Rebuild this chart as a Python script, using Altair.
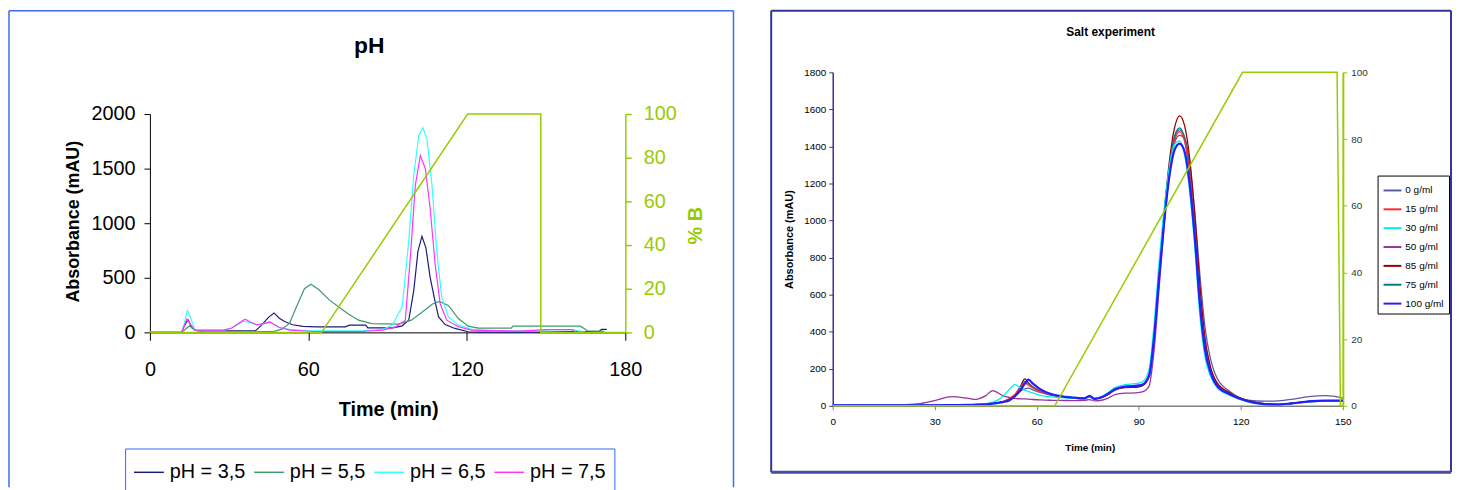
import altair as alt
import pandas as pd

F = "Liberation Sans"
GREEN = "#99cc00"

# ---------------- pH chart data ----------------
PH_LABELS = ["pH = 3,5", "pH = 5,5", "pH = 6,5", "pH = 7,5"]
PH_COLORS = ["#1c1c7c", "#3d9a6c", "#33ffff", "#ff33ff"]

PH35_T = [0, 12, 13, 14.4, 16, 18, 30, 40, 42, 45, 47, 49, 51, 54, 58, 63, 74, 75.5, 81.7, 82.5,
          92, 95.5, 98, 99.9, 101.5, 103, 104.5, 106.1, 108, 109.3, 111.8, 115.5, 120.5, 125, 140,
          150, 160, 170, 171, 173]
PH35_A = [0, 0, 60, 115, 40, 15, 15, 15, 60, 140, 178, 130, 100, 70, 55, 50, 50, 66, 66, 42,
          42, 60, 111, 383, 745, 881, 775, 504, 280, 142, 72, 36, 6, 3, 3,
          3, 8, 8, 27, 27]

PH55_T = [0, 12, 14, 15, 17, 20, 40, 47, 50, 52.9, 55.5, 58.5, 61, 64, 67.8, 71.5, 75, 79, 84, 94,
          99, 104, 107, 109.5, 113, 116.8, 120.5, 124.3, 136.8, 137.5, 163, 165.7, 172]
PH55_A = [0, 0, 40, 60, 20, 5, 5, 10, 30, 85, 235, 400, 440, 390, 300, 232, 170, 112, 81, 75,
          112, 202, 260, 284, 247, 127, 57, 39, 39, 57, 57, 15, 10]

PH65_T = [0, 12, 13, 14.2, 15.5, 17, 28, 31, 35.3, 38, 40.4, 43, 45.4, 49, 52.9, 60, 80, 88, 91.7, 95.5,
          98, 99.9, 101.8, 103.3, 104.9, 106.8, 108.6, 110.5, 113, 116.8, 121.8, 130, 150, 151, 160, 165]
PH65_A = [0, 0, 80, 200, 130, 20, 20, 40, 103, 90, 66, 80, 95, 45, 27, 15, 15, 25, 66, 232,
          836, 1439, 1801, 1877, 1771, 1349, 745, 323, 142, 66, 27, 15, 15, 25, 25, 0]

PH75_T = [0, 12, 13, 14, 15.5, 17, 28, 31, 36, 38, 40.4, 43, 45.4, 49, 52.9, 62, 80, 88, 93, 96.7,
          98.6, 100.5, 102.4, 104.3, 106.1, 108, 109.9, 112.4, 116.8, 121.8, 140, 150, 160, 161, 165]
PH75_A = [0, 0, 60, 120, 70, 20, 20, 40, 120, 95, 70, 80, 95, 45, 20, 8, 8, 20, 50, 112,
          685, 1349, 1620, 1499, 1137, 624, 262, 112, 51, 21, 12, 25, 25, 5, 0]

GRAD_L_T = [0, 65, 120.3, 148, 148, 180]
GRAD_L_B = [0, 0, 100, 100, 0, 0]

# ---------------- Salt chart data ----------------
SALT_LABELS = ["0 g/ml", "15 g/ml", "30 g/ml", "50 g/ml", "85 g/ml", "75 g/ml", "100 g/ml"]
SALT_COLORS = ["#5a5aa8", "#ff2a2a", "#00eeee", "#993399", "#990000", "#008080", "#1f1fff"]

SALT_T = [0, 20, 25, 30, 35, 40, 42, 45, 47, 50,
          52, 53.5, 55, 56.5, 57.5, 59, 61, 64, 67, 71,
          74, 75.5, 77, 79, 81, 83, 86, 89, 91, 93,
          94.5, 96, 97.5, 99, 100.5, 102, 103.5, 105, 106.5, 108,
          109.5, 111, 113, 117, 122, 127, 131, 135, 140, 145,
          150]
S0 = [2, 3, 3, 3, 4, 5, 6, 9, 13, 22,
      35, 55, 78, 92, 95, 85, 72, 58, 49, 42,
      40, 48, 38, 44, 62, 86, 101, 104, 111, 160,
      375, 715, 1030, 1280, 1450, 1490, 1450, 1300, 1040, 700,
      420, 260, 150, 75, 30, 25, 27, 35, 50, 55,
      42]
S15 = [2, 3, 3, 3, 4, 5, 6, 9, 13, 22,
       40, 60, 92, 124, 112, 95, 78, 60, 50, 42,
       40, 50, 40, 45, 65, 88, 104, 108, 115, 170,
       400, 730, 1030, 1270, 1430, 1480, 1425, 1240, 940, 560,
       310, 190, 110, 62, 26, 10, 8, 14, 24, 28,
       28]
S30 = [2, 3, 3, 3, 4, 5, 7, 12, 18, 50,
       90, 114, 100, 85, 78, 68, 57, 48, 44, 40,
       39, 48, 40, 50, 72, 98, 115, 120, 128, 195,
       440, 780, 1070, 1290, 1410, 1430, 1350, 1150, 850, 480,
       260, 165, 98, 55, 22, 7, 6, 12, 22, 26,
       26]
S50 = [2, 5, 10, 28, 50, 40, 35, 55, 82, 55,
       45, 40, 38, 37, 36, 34, 32, 30, 29, 28,
       30, 33, 27, 30, 42, 60, 68, 70, 75, 105,
       300, 640, 980, 1250, 1420, 1460, 1440, 1280, 1000, 620,
       350, 210, 120, 65, 28, 10, 7, 12, 22, 26,
       26]
S85 = [2, 3, 3, 3, 4, 5, 6, 9, 13, 22,
       38, 58, 98, 145, 125, 100, 80, 62, 51, 43,
       40, 50, 38, 44, 62, 85, 98, 100, 108, 160,
       380, 720, 1050, 1320, 1500, 1565, 1510, 1330, 1020, 640,
       360, 215, 125, 68, 30, 12, 8, 14, 24, 28,
       28]
S75 = [2, 3, 3, 3, 4, 5, 6, 9, 13, 22,
       38, 58, 95, 132, 120, 98, 79, 61, 50, 42,
       40, 50, 39, 45, 64, 87, 103, 106, 113, 165,
       395, 735, 1040, 1290, 1455, 1500, 1440, 1250, 950, 570,
       315, 192, 112, 63, 27, 10, 8, 14, 24, 28,
       28]
S100 = [2, 3, 3, 3, 4, 5, 6, 8, 12, 20,
        30, 50, 80, 120, 141, 118, 90, 65, 52, 44,
        40, 54, 37, 46, 66, 90, 104, 108, 113, 160,
        370, 700, 1000, 1240, 1380, 1415, 1370, 1190, 900, 540,
        300, 185, 108, 60, 25, 9, 7, 13, 24, 28,
        28]

GRAD_R_T = [0, 65.3, 120.5, 148.3, 149.3, 150]
GRAD_R_B = [0, 0, 100, 100, 0, 0]


def long(labels, ts, vals):
    rows = []
    for lab, t, v in zip(labels, ts, vals):
        for i, (a, b) in enumerate(zip(t, v)):
            rows.append({"s": lab, "t": a, "A": b, "i": i})
    return pd.DataFrame(rows)


df_ph = long(PH_LABELS, [PH35_T, PH55_T, PH65_T, PH75_T], [PH35_A, PH55_A, PH65_A, PH75_A])
draw_order = ["0 g/ml", "50 g/ml", "85 g/ml", "75 g/ml", "15 g/ml", "30 g/ml", "100 g/ml"]
salt_map = dict(zip(SALT_LABELS, [S0, S15, S30, S50, S85, S75, S100]))
df_salt = long(draw_order, [SALT_T] * 7, [salt_map[k] for k in draw_order])
df_gl = pd.DataFrame({"t": GRAD_L_T, "B": GRAD_L_B, "i": range(len(GRAD_L_T))})
df_gr = pd.DataFrame({"t": GRAD_R_T, "B": GRAD_R_B, "i": range(len(GRAD_R_T))})
dummy = pd.DataFrame({"k": [0]})

# ---------------- left panel ----------------
# view is 262 px tall; the data occupy its lower 220 px so that the plot top sits lower than the right panel's
WL, HL, TOPL = 479, 262, 42
xl_axis = alt.Axis(values=[0, 60, 120, 180], title="Time (min)", labelFontSize=20, labelPadding=19,
                   tickSize=8, tickColor="black", domainColor="black", labelColor="black",
                   labelFlush=False, labelFont=F, titleFont=F, titleFontSize=20, titleFontWeight="bold",
                   titleX=240, titleY=78, titleBaseline="middle", titleAlign="center", titleColor="black")
xl = alt.X("t:Q", scale=alt.Scale(domain=[0, 180], nice=False, zero=False), axis=xl_axis)

ph_lines = alt.Chart(df_ph).mark_line(strokeWidth=1.2).encode(
    x=xl,
    y=alt.Y("A:Q", scale=alt.Scale(domain=[0, 2000], nice=False, range=[HL, TOPL]),
            axis=alt.Axis(orient="left", values=[0, 500, 1000, 1500, 2000], format="d",
                          title="Absorbance (mAU)",
                          labelFontSize=20, labelFont=F, labelColor="black", tickSize=6,
                          tickColor="black", domainColor="black", labelPadding=9,
                          titleFont=F, titleFontSize=18, titleFontWeight="bold", titleColor="black",
                          titleAngle=270, titleX=-77, titleY=150, titleAlign="center",
                          titleBaseline="middle")),
    color=alt.Color("s:N", scale=alt.Scale(domain=PH_LABELS, range=PH_COLORS),
                    legend=alt.Legend(orient="none", legendX=-25, legendY=379, direction="horizontal",
                                      title=None, labelFontSize=20, labelFont=F, labelColor="black",
                                      symbolType="stroke", symbolSize=900, symbolStrokeWidth=1.5,
                                      strokeColor="#3366ff", fillColor="white", padding=8,
                                      columnPadding=5, labelOffset=5)),
    order="i:Q",
)

grad_l = alt.Chart(df_gl).mark_line(color=GREEN, strokeWidth=1.5).encode(
    x=xl,
    y=alt.Y("B:Q", scale=alt.Scale(domain=[0, 100], nice=False, range=[HL, TOPL]),
            axis=alt.Axis(orient="right", values=[0, 20, 40, 60, 80, 100], title="% B",
                          labelFontSize=20, labelFont=F, labelColor=GREEN, tickSize=6,
                          tickColor=GREEN, tickWidth=1.5, domainColor=GREEN, domainWidth=1.5,
                          labelPadding=12, titleFont=F, titleFontSize=20, titleFontWeight="bold",
                          titleColor=GREEN, titleAngle=270, titleX=71, titleY=154,
                          titleAlign="center", titleBaseline="middle")),
    order="i:Q",
)

fl = alt.Chart(dummy)
frame_l = alt.layer(
    fl.mark_rule(color="#3a6cf0", strokeWidth=1.5).encode(x=alt.value(-142), y=alt.value(-62), y2=alt.value(418)),
    fl.mark_rule(color="#3a6cf0", strokeWidth=1.5).encode(x=alt.value(588), y=alt.value(-62), y2=alt.value(418)),
    fl.mark_rule(color="#3a6cf0", strokeWidth=1.5).encode(x=alt.value(-142), x2=alt.value(588), y=alt.value(-62)),
)
title_l = fl.mark_text(text="pH", font=F, fontSize=23, fontWeight="bold", align="center",
                       baseline="middle", color="black").encode(x=alt.value(221), y=alt.value(-26))

left = alt.layer(frame_l, ph_lines, grad_l, title_l).resolve_scale(y="independent").properties(width=WL, height=HL)

# ---------------- right panel ----------------
WR, HR = 514, 336
xr_axis = alt.Axis(values=[0, 30, 60, 90, 120, 150], title="Time (min)", labelFontSize=10, labelPadding=7,
                   tickSize=4, tickColor="#808080", domainColor="#808080", domainWidth=1.5,
                   labelColor="black", labelFlush=False, labelFont=F, titleFont=F, titleFontSize=10,
                   titleFontWeight="bold", titleX=259, titleY=42, titleBaseline="middle",
                   titleAlign="center", titleColor="black")
xr = alt.X("t:Q", scale=alt.Scale(domain=[0, 150], nice=False, zero=False), axis=xr_axis)

salt_lines = alt.Chart(df_salt).mark_line(interpolate="monotone", clip=True).encode(
    x=xr,
    y=alt.Y("A:Q", scale=alt.Scale(domain=[0, 1800], nice=False),
            axis=alt.Axis(orient="left", values=list(range(0, 1801, 200)), format="d",
                          title="Absorbance (mAU)",
                          labelFontSize=10, labelFont=F, labelColor="black", tickSize=4,
                          tickColor="#333399", domainColor="#333399", domainWidth=1.5, labelPadding=3,
                          titleFont=F, titleFontSize=11, titleFontWeight="bold", titleColor="black",
                          titleAngle=270, titleX=-44, titleY=168, titleAlign="center",
                          titleBaseline="middle")),
    color=alt.Color("s:N", scale=alt.Scale(domain=SALT_LABELS, range=SALT_COLORS),
                    legend=alt.Legend(orient="none", legendX=549, legendY=104, direction="vertical",
                                      title=None, labelFontSize=10, labelFont=F, labelColor="black",
                                      symbolType="stroke", symbolSize=324, symbolStrokeWidth=2,
                                      strokeColor="black", fillColor="white", padding=5,
                                      rowPadding=4, labelOffset=3)),
    strokeWidth=alt.condition("datum.s == '100 g/ml'", alt.value(2.2), alt.value(1.3)),
    order="i:Q",
)

grad_r = alt.Chart(df_gr).mark_line(color=GREEN, strokeWidth=1.5).encode(
    x=xr,
    y=alt.Y("B:Q", scale=alt.Scale(domain=[0, 100], nice=False),
            axis=alt.Axis(orient="right", values=[0, 20, 40, 60, 80, 100], title=None,
                          labelFontSize=10, labelFont=F, labelColor="#333333", tickSize=4,
                          tickColor=GREEN, domainColor=GREEN, domainWidth=2, labelPadding=4)),
    order="i:Q",
)

fr = alt.Chart(dummy)
frame_r = alt.layer(
    fr.mark_rule(color="#333399", strokeWidth=2).encode(x=alt.value(-62), y=alt.value(-62), y2=alt.value(403)),
    fr.mark_rule(color="#333399", strokeWidth=2).encode(x=alt.value(623), y=alt.value(-62), y2=alt.value(403)),
    fr.mark_rule(color="#333399", strokeWidth=2).encode(x=alt.value(-62), x2=alt.value(623), y=alt.value(-62)),
    fr.mark_rule(color="#4a4aa0", strokeWidth=3).encode(x=alt.value(-62), x2=alt.value(623), y=alt.value(403)),
)
title_r = fr.mark_text(text="Salt experiment", font=F, fontSize=12, fontWeight="bold", align="center",
                       baseline="middle", color="black").encode(x=alt.value(280), y=alt.value(-41))

right = alt.layer(frame_r, salt_lines, grad_r, title_r).resolve_scale(y="independent").properties(width=WR, height=HR)

chart = alt.hconcat(left, right, spacing=35).resolve_scale(color="independent").properties(
    padding=0
).configure_view(stroke=None).configure_axis(grid=False)

chart.save("out.html", embed_options={"renderer": "svg", "actions": False})
